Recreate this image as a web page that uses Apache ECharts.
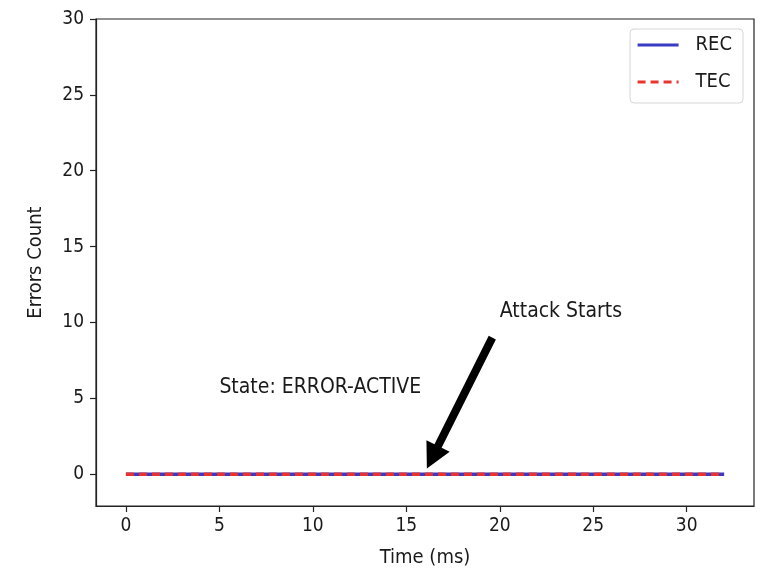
<!DOCTYPE html>
<html>
<head>
<meta charset="utf-8">
<script src="https://cdn.jsdelivr.net/npm/echarts@6/dist/echarts.min.js"></script>
<style>
html,body{margin:0;padding:0;background:#fff;}
#chart{width:764px;height:575px;}
</style>
</head>
<body>
<div id="chart"></div>
<script>
// ---- data ----
var timeMs = [0,1,2,3,4,5,6,7,8,9,10,11,12,13,14,15,16,17,18,19,20,21,22,23,24,25,26,27,28,29,30,31,32];
var recValues = [0,0,0,0,0,0,0,0,0,0,0,0,0,0,0,0,0,0,0,0,0,0,0,0,0,0,0,0,0,0,0,0,0];
var tecValues = [0,0,0,0,0,0,0,0,0,0,0,0,0,0,0,0,0,0,0,0,0,0,0,0,0,0,0,0,0,0,0,0,0];
var xTicks = [0,5,10,15,20,25,30];
var yTicks = [0,5,10,15,20,25,30];
var seriesNames = ['REC','TEC'];
var stateLabel = 'State: ERROR-ACTIVE';
var stateLabelAt = [5,5];
var attackLabel = 'Attack Starts';
var attackLabelAt = [20,10];
var arrowTail = [19.6,9.0];
var arrowTip = [16.1,0.38];

var FONT = '"DejaVu Sans Condensed","Liberation Sans Narrow","DejaVu Sans",sans-serif';
var TXT = '#1a1a1a';

function pairs(xs, ys){ var r=[]; for(var i=0;i<xs.length;i++) r.push([xs[i],ys[i]]); return r; }

var chart = echarts.init(document.getElementById('chart'), null, {renderer:'canvas'});
var option = {
  animation:false,
  backgroundColor:'#fff',
  textStyle:{fontFamily:FONT},
  grid:{left:96,right:10,top:19,bottom:69,show:true,borderColor:'#222',borderWidth:1.2,outerBoundsMode:'none'},
  legend:{
    orient:'vertical', right:21, top:29,
    data:seriesNames,
    itemWidth:41, itemHeight:14, itemGap:15,
    padding:[5,11,10,6],
    itemStyle:{opacity:0},
    lineStyle:{width:3},
    backgroundColor:'#fff', borderColor:'#d6d6d6', borderWidth:1, borderRadius:4,
    textStyle:{fontFamily:FONT,fontSize:20,color:TXT,lineHeight:22,padding:[0,0,0,12]}
  },
  xAxis:{
    type:'value', min:-1.6, max:33.6,
    name:'Time (ms)', nameLocation:'middle', nameGap:42,
    nameTextStyle:{fontFamily:FONT,fontSize:20,color:TXT},
    axisLine:{show:true,onZero:false,lineStyle:{color:'#222',width:1.2}},
    axisTick:{show:true,inside:false,length:6,lineStyle:{color:'#222',width:1.2},customValues:xTicks},
    axisLabel:{fontFamily:FONT,fontSize:19,color:TXT,margin:11,customValues:xTicks},
    splitLine:{show:false}
  },
  yAxis:{
    type:'value', min:-2.1, max:30,
    name:'Errors Count', nameLocation:'middle', nameGap:50, nameRotate:90,
    nameTextStyle:{fontFamily:FONT,fontSize:20,color:TXT},
    axisLine:{show:true,onZero:false,lineStyle:{color:'#222',width:1.2}},
    axisTick:{show:true,inside:false,length:6,lineStyle:{color:'#222',width:1.2},customValues:yTicks},
    axisLabel:{fontFamily:FONT,fontSize:19,color:TXT,margin:12,customValues:yTicks},
    splitLine:{show:false}
  },
  series:[
    {name:seriesNames[0],type:'line',data:pairs(timeMs,recValues),symbol:'none',showSymbol:false,
     lineStyle:{color:'#3a3ac4',width:3.5},itemStyle:{color:'#3a3ac4'},z:2},
    {name:seriesNames[1],type:'line',data:pairs(timeMs,tecValues),symbol:'none',showSymbol:false,
     lineStyle:{color:'#e8342f',width:3.5,type:[8,5]},itemStyle:{color:'#e8342f'},z:3}
  ]
};
chart.setOption(option);

function px(p){ return chart.convertToPixel({gridIndex:0}, p); }
var a = px(arrowTail), b = px(arrowTip);
var dx=b[0]-a[0], dy=b[1]-a[1], L=Math.sqrt(dx*dx+dy*dy);
var ux=dx/L, uy=dy/L, nx=-uy, ny=ux;
var sw=4, hw=13, hl=25;
var bx=b[0]-ux*hl, by=b[1]-uy*hl;
var poly=[
  [a[0]+nx*sw,a[1]+ny*sw],[bx+nx*sw,by+ny*sw],[bx+nx*hw,by+ny*hw],[b[0],b[1]],
  [bx-nx*hw,by-ny*hw],[bx-nx*sw,by-ny*sw],[a[0]-nx*sw,a[1]-ny*sw]
];
var s = px(stateLabelAt), t = px(attackLabelAt);
chart.setOption({graphic:[
  {type:'polygon',shape:{points:poly},style:{fill:'#000'},z:10},
  {type:'text',x:s[0],y:s[1],style:{text:stateLabel,fontFamily:FONT,fontSize:21,fill:TXT,textAlign:'left',textVerticalAlign:'bottom'},z:10},
  {type:'text',x:t[0],y:t[1],style:{text:attackLabel,fontFamily:FONT,fontSize:21,fill:TXT,textAlign:'left',textVerticalAlign:'bottom'},z:10}
]});
</script>
</body>
</html>
